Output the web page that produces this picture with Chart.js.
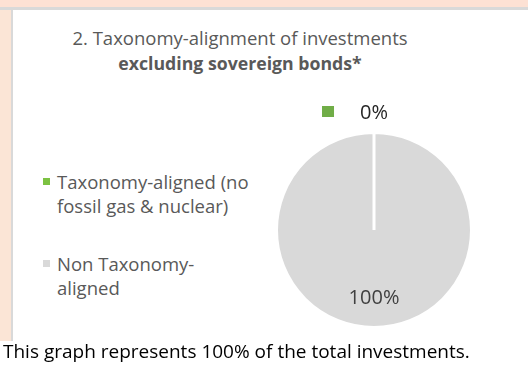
<!DOCTYPE html>
<html>
<head>
<meta charset="utf-8">
<script src="https://cdn.jsdelivr.net/npm/chart.js@4.4.1/dist/chart.umd.min.js"></script>
<style>
  html, body { margin: 0; padding: 0; background: #ffffff; }
  #page { position: relative; width: 528px; height: 370px; overflow: hidden; font-family: "Open Sans", sans-serif; }
  .band { position: absolute; }
  .txt { position: absolute; white-space: nowrap; }
  #title { left: 0; width: 480px; top: 25px; text-align: center; color: #595959; font-size: 18.5px; line-height: 25px; }
  #title b { font-weight: 700; font-size: 17.7px; }
  #footer { left: 3px; top: 339px; color: #000000; font-size: 19px; line-height: 24px; }
  .leg { position: absolute; left: 43px; color: #595959; font-size: 18.5px; line-height: 24px; }
  .leg i { position: absolute; left: 0; top: 8px; width: 7px; height: 7px; }
  .leg span { display: block; margin-left: 14px; }
  .dl { position: absolute; font-size: 20px; line-height: 24px; white-space: nowrap; transform: translate(-50%, -50%); }
  .dl i { position: absolute; top: 6px; width: 12px; height: 11px; }
  canvas { position: absolute; left: 0; top: 0; }
  #labels { position: absolute; left: 0; top: 0; }
</style>
</head>
<body>
<div id="page">
  <div class="band" style="left:0;top:0;width:528px;height:7px;background:#fde1d4;"></div>
  <div class="band" style="left:0;top:7px;width:528px;height:3px;background:#d9d9d9;"></div>
  <div class="band" style="left:0;top:10px;width:11px;height:331px;background:#fbe5d6;"></div>
  <div class="band" style="left:11px;top:10px;width:2px;height:331px;background:#d9d9d9;"></div>
  <div class="txt" id="title">2. Taxonomy-alignment of investments<br><b>excluding sovereign bonds*</b></div>
  <div id="legend"></div>
  <canvas id="pieChart" width="528" height="370"></canvas>
  <div id="labels"></div>
  <div class="txt" id="footer">This graph represents 100% of the total investments.</div>
</div>
<script>
// categories, wrapped the way the legend shows them
const categories = [
    ["Taxonomy-aligned (no", "fossil gas & nuclear)"],
    ["Non Taxonomy-", "aligned"]
];
const shares = [0, 100];
const shareLabels = ["0%", "100%"];
const colores = ["#70ad47", "#d9d9d9"];
const legendMarks = ["#7cc242", "#d9d9d9"];

// legend built from the same arrays
const legendTops = [170, 252];
const legend = document.getElementById("legend");
categories.forEach((lines, i) => {
    const item = document.createElement("div");
    item.className = "leg";
    item.style.top = legendTops[i] + "px";
    item.innerHTML = `<i style="background:${legendMarks[i]}"></i>` + lines.map(l => `<span>${l}</span>`).join("");
    legend.appendChild(item);
});

// data labels placed from the arc elements
const labelPlugin = {
    id: "etiquetas",
    afterDraw(chart) {
        const box = document.getElementById("labels");
        box.innerHTML = "";
        const meta = chart.getDatasetMeta(0);
        meta.data.forEach((arc, i) => {
            const p = arc.getProps(["x", "y", "startAngle", "endAngle", "outerRadius"], true);
            const mid = (p.startAngle + p.endAngle) / 2;
            const outside = shares[i] < 5;
            const r = outside ? p.outerRadius + 21 : p.outerRadius * 0.69;
            const el = document.createElement("div");
            el.className = "dl";
            el.style.left = (p.x + Math.cos(mid) * r) + "px";
            el.style.top = (p.y + Math.sin(mid) * r) + "px";
            el.style.color = outside ? "#262626" : "#404040";
            el.textContent = shareLabels[i];
            if (outside) {
                const key = document.createElement("i");
                key.style.left = "-38px";
                key.style.background = colores[i];
                el.appendChild(key);
            }
            box.appendChild(el);
        });
    }
};

const ctx = document.getElementById("pieChart").getContext("2d");
const pieChart = new Chart(ctx, {
    type: "pie",
    data: {
        labels: categories,
        datasets: [{
            data: shares,
            backgroundColor: colores,
            borderColor: "#ffffff",
            borderWidth: 3
        }]
    },
    options: {
        responsive: false,
        animation: false,
        layout: { padding: { left: 275, right: 55, top: 131, bottom: 41 } },
        plugins: {
            legend: { display: false },
            tooltip: { enabled: false }
        }
    },
    plugins: [labelPlugin]
});
</script>
</body>
</html>
